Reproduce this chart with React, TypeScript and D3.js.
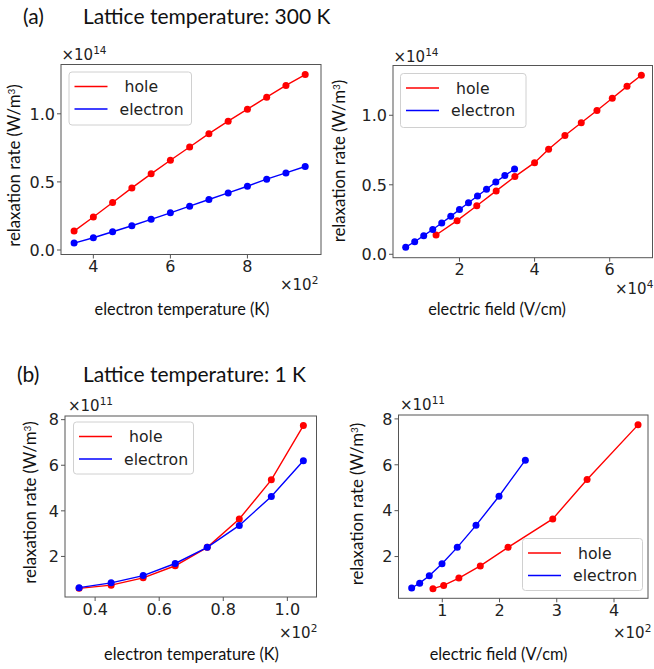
import React from "react";
import * as d3 from "d3";

// ---------- DATA ----------
// (a) Lattice temperature 300 K
const tempA: number[] = [3.5, 4.0, 4.5, 5.0, 5.5, 6.0, 6.5, 7.0, 7.5, 8.0, 8.5, 9.0, 9.5]; // ×10^2 K
const holeRateA: number[] = [0.139, 0.242, 0.349, 0.456, 0.559, 0.659, 0.756, 0.854, 0.946, 1.034, 1.122, 1.208, 1.288]; // ×10^14
const electronRateA: number[] = [0.051, 0.090, 0.134, 0.178, 0.225, 0.273, 0.322, 0.371, 0.419, 0.468, 0.520, 0.566, 0.613];
const holeFieldA: number[] = [1.376, 1.936, 2.461, 2.977, 3.475, 4.0, 4.373, 4.808, 5.243, 5.661, 6.069, 6.461, 6.843]; // ×10^4 V/cm
const electronFieldA: number[] = [0.568, 0.808, 1.048, 1.288, 1.528, 1.768, 2.0, 2.24, 2.48, 2.72, 2.968, 3.208, 3.467];

// (b) Lattice temperature 1 K
const tempB: number[] = [0.35, 0.45, 0.55, 0.65, 0.75, 0.85, 0.95, 1.05]; // ×10^2 K
const holeRateB: number[] = [0.60, 0.74, 1.06, 1.59, 2.40, 3.64, 5.36, 7.74]; // ×10^11
const electronRateB: number[] = [0.63, 0.84, 1.16, 1.69, 2.40, 3.36, 4.63, 6.20];
const holeFieldB: number[] = [0.837, 1.024, 1.29, 1.664, 2.149, 2.93, 3.53, 4.42]; // ×10^2 V/cm
const electronFieldB: number[] = [0.465, 0.605, 0.773, 0.995, 1.262, 1.589, 1.991, 2.451];

// tick labels
const xTicksA1: number[] = [4, 6, 8];
const xTicksA2: number[] = [2, 4, 6];
const yTicksA: number[] = [0.0, 0.5, 1.0];
const xTicksB1: number[] = [0.4, 0.6, 0.8, 1.0];
const xTicksB2: number[] = [1, 2, 3, 4];
const yTicksB: number[] = [2, 4, 6, 8];

const seriesNames: string[] = ["hole", "electron"];
const seriesColors: string[] = ["#ff0000", "#0000ff"];

const TICK_FONT = "DejaVu Sans, sans-serif";
const LABEL_FONT = "Lato, 'Open Sans', sans-serif";

type PanelProps = {
  box: [number, number, number, number]; // left, top, right, bottom
  xDomain: [number, number];
  yDomain: [number, number];
  xTicks: number[];
  yTicks: number[];
  xFmt: (v: number) => string;
  yFmt: (v: number) => string;
  series: { x: number[]; y: number[]; color: string; name: string }[];
  yExp: string;
  xExp: string;
  xExpPos: [number, number];
  yExpPos: [number, number];
  xLabel: string;
  xLabelPos: [number, number];
  yLabelPos: [number, number];
  legend: [number, number, number, number];
};

function Panel(p: PanelProps) {
  const [l, t, r, b] = p.box;
  const x = d3.scaleLinear().domain(p.xDomain).range([l, r]);
  const y = d3.scaleLinear().domain(p.yDomain).range([b, t]);
  const line = d3
    .line<[number, number]>()
    .x((d) => x(d[0]))
    .y((d) => y(d[1]));
  const [lx, ly, lw, lh] = p.legend;
  return (
    <g>
      <defs>
        <clipPath id={`clip-${l}-${t}`}>
          <rect x={l} y={t} width={r - l} height={b - t} />
        </clipPath>
      </defs>
      {/* data */}
      <g clipPath={`url(#clip-${l}-${t})`}>
        {p.series.map((s, i) => {
          const pts: [number, number][] = s.x.map((xv, k) => [xv, s.y[k]]);
          return (
            <g key={i}>
              <path d={line(pts) || ""} fill="none" stroke={s.color} strokeWidth={1.4} />
              {pts.map((d, k) => (
                <circle key={k} cx={x(d[0])} cy={y(d[1])} r={3.5} fill={s.color} />
              ))}
            </g>
          );
        })}
      </g>
      {/* frame */}
      <rect x={l} y={t} width={r - l} height={b - t} fill="none" stroke="#555" strokeWidth={1} />
      {/* x ticks */}
      {p.xTicks.map((v, i) => (
        <g key={i}>
          <line x1={x(v)} x2={x(v)} y1={b} y2={b + 4} stroke="#555" strokeWidth={1} />
          <text x={x(v)} y={b + 17.5} textAnchor="middle" fontFamily={TICK_FONT} fontSize={16} fill="#222">
            {p.xFmt(v)}
          </text>
        </g>
      ))}
      {/* y ticks */}
      {p.yTicks.map((v, i) => (
        <g key={i}>
          <line x1={l - 4} x2={l} y1={y(v)} y2={y(v)} stroke="#555" strokeWidth={1} />
          <text x={l - 6} y={y(v)} dy="0.36em" textAnchor="end" fontFamily={TICK_FONT} fontSize={16} fill="#222">
            {p.yFmt(v)}
          </text>
        </g>
      ))}
      {/* offset texts */}
      <text x={p.yExpPos[0]} y={p.yExpPos[1]} fontFamily={TICK_FONT} fontSize={15} fill="#222">
        ×10<tspan dy={-6} fontSize={10.5}>{p.yExp}</tspan>
      </text>
      <text x={p.xExpPos[0]} y={p.xExpPos[1]} fontFamily={TICK_FONT} fontSize={15} fill="#222">
        ×10<tspan dy={-6} fontSize={10.5}>{p.xExp}</tspan>
      </text>
      {/* axis labels */}
      <text x={p.xLabelPos[0]} y={p.xLabelPos[1]} textAnchor="middle" fontFamily={LABEL_FONT} fontSize={16.3} fill="#111">
        {p.xLabel}
      </text>
      <text
        transform={`translate(${p.yLabelPos[0]},${p.yLabelPos[1]}) rotate(-90)`}
        textAnchor="middle"
        fontFamily={LABEL_FONT}
        fontSize={16.8}
        fill="#111"
      >
        relaxation rate (W/m<tspan dy={-5.5} fontSize={10}>3</tspan>
        <tspan dy={5.5}>)</tspan>
      </text>
      {/* legend */}
      <rect x={lx} y={ly} width={lw} height={lh} rx={3} fill="white" fillOpacity={0.85} stroke="#d0d0d0" strokeWidth={1} />
      {p.series.map((s, i) => (
        <g key={i}>
          <line x1={lx + 5.5} x2={lx + 38.5} y1={ly + 14.5 + i * 22.5} y2={ly + 14.5 + i * 22.5} stroke={s.color} strokeWidth={1.4} />
          <text
            x={lx + 50.5}
            y={ly + 14.5 + i * 22.5}
            dy="0.36em"
            fontFamily={TICK_FONT}
            fontSize={15.7}
            fill="#222"
            style={{ whiteSpace: "pre" }}
          >
            {i === 0 ? " " + s.name : s.name}
          </text>
        </g>
      ))}
    </g>
  );
}

const f1 = (v: number) => d3.format(".1f")(v);
const f0 = (v: number) => d3.format("d")(v);

export default function App() {
  return (
    <svg width={654} height={669} style={{ position: "absolute", left: 0, top: 0, background: "white" }}>
      {/* titles */}
      <text x={23} y={24} fontFamily={LABEL_FONT} fontSize={21} fill="#111">(a)</text>
      <text x={83} y={24} fontFamily={LABEL_FONT} fontSize={21} fill="#111">Lattice temperature: 300 K</text>
      <text x={17} y={382} fontFamily={LABEL_FONT} fontSize={21} fill="#111">(b)</text>
      <text x={83} y={382} fontFamily={LABEL_FONT} fontSize={21} fill="#111">Lattice temperature: 1 K</text>

      <Panel
        box={[61, 64.5, 321, 254.5]}
        xDomain={[3.16, 9.91]}
        yDomain={[-0.033, 1.362]}
        xTicks={xTicksA1}
        yTicks={yTicksA}
        xFmt={f0}
        yFmt={f1}
        series={[
          { x: tempA, y: holeRateA, color: seriesColors[0], name: seriesNames[0] },
          { x: tempA, y: electronRateA, color: seriesColors[1], name: seriesNames[1] },
        ]}
        yExp="14"
        xExp="2"
        yExpPos={[61.5, 59.5]}
        xExpPos={[280, 290]}
        xLabel="electron temperature (K)"
        xLabelPos={[182, 315]}
        yLabelPos={[20, 165.5]}
        legend={[69, 72, 122.5, 53]}
      />
      <Panel
        box={[393, 65.5, 652.5, 257.7]}
        xDomain={[0.23, 7.14]}
        yDomain={[-0.0245, 1.358]}
        xTicks={xTicksA2}
        yTicks={yTicksA}
        xFmt={f0}
        yFmt={f1}
        series={[
          { x: holeFieldA, y: holeRateA, color: seriesColors[0], name: seriesNames[0] },
          { x: electronFieldA, y: electronRateA, color: seriesColors[1], name: seriesNames[1] },
        ]}
        yExp="14"
        xExp="4"
        yExpPos={[393.5, 61.5]}
        xExpPos={[615, 294]}
        xLabel="electric field (V/cm)"
        xLabelPos={[497, 315]}
        yLabelPos={[345, 161]}
        legend={[400.5, 73.5, 125.5, 54]}
      />
      <Panel
        box={[65, 416, 316.5, 597]}
        xDomain={[0.306, 1.091]}
        yDomain={[0.22, 8.16]}
        xTicks={xTicksB1}
        yTicks={yTicksB}
        xFmt={f1}
        yFmt={f0}
        series={[
          { x: tempB, y: holeRateB, color: seriesColors[0], name: seriesNames[0] },
          { x: tempB, y: electronRateB, color: seriesColors[1], name: seriesNames[1] },
        ]}
        yExp="11"
        xExp="2"
        yExpPos={[68, 411]}
        xExpPos={[279, 638]}
        xLabel="electron temperature (K)"
        xLabelPos={[191.5, 660]}
        yLabelPos={[36, 502.5]}
        legend={[73.5, 422, 120, 52]}
      />
      <Panel
        box={[398.5, 415, 648, 598.3]}
        xDomain={[0.235, 4.594]}
        yDomain={[0.18, 8.17]}
        xTicks={xTicksB2}
        yTicks={yTicksB}
        xFmt={f0}
        yFmt={f0}
        series={[
          { x: holeFieldB, y: holeRateB, color: seriesColors[0], name: seriesNames[0] },
          { x: electronFieldB, y: electronRateB, color: seriesColors[1], name: seriesNames[1] },
        ]}
        yExp="11"
        xExp="2"
        yExpPos={[400, 410]}
        xExpPos={[613, 638]}
        xLabel="electric field (V/cm)"
        xLabelPos={[498.5, 660]}
        yLabelPos={[363, 504]}
        legend={[522.5, 538.5, 120, 52]}
      />
    </svg>
  );
}
